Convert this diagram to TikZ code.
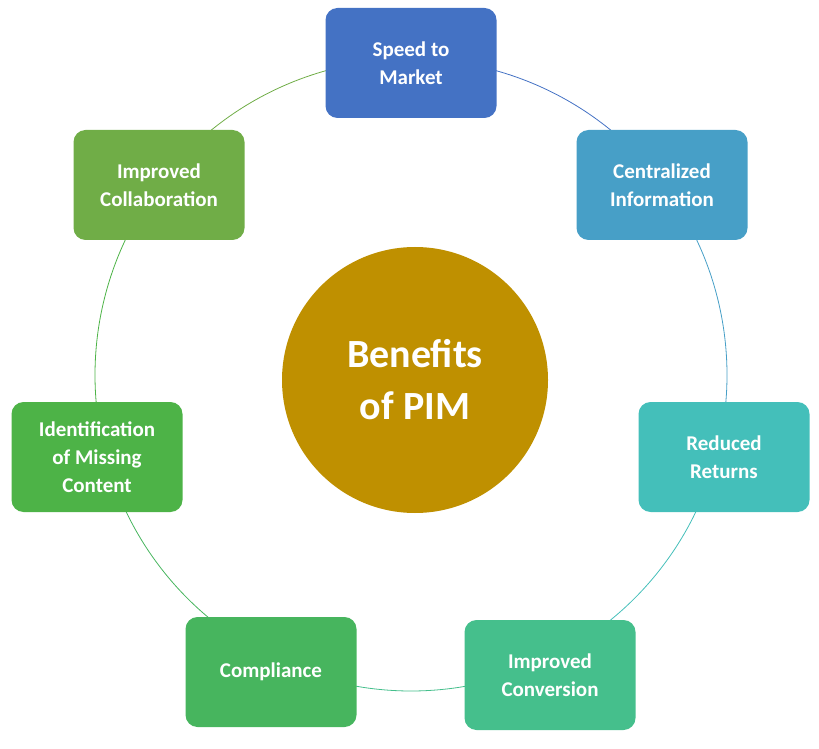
\documentclass[tikz,border=0pt]{standalone}
\usepackage{fontspec}
\setmainfont{Carlito}
\begin{document}
\begin{tikzpicture}[x=1pt,y=1pt,
  box/.style={rounded corners=12pt,minimum width=171pt,minimum height=110pt,text=white,align=center,font=\fontsize{21}{28}\selectfont\bfseries,inner sep=2pt},
  ringarc/.style={line width=0.8pt}]
\useasboundingbox (0,0) rectangle (819,748);
\definecolor{cA}{HTML}{4472C4}
\definecolor{cB}{HTML}{479FC7}
\definecolor{cC}{HTML}{44BFBA}
\definecolor{cD}{HTML}{45BF8C}
\definecolor{cE}{HTML}{47B55E}
\definecolor{cF}{HTML}{4DB347}
\definecolor{cG}{HTML}{70AD47}
\definecolor{cM}{HTML}{BF9000}
\coordinate (o) at (411,373);
\draw[ringarc,cA] (o) ++(90:316) arc (90:37:316);
\draw[ringarc,cB] (o) ++(37:316) arc (37:-15:316);
\draw[ringarc,cC] (o) ++(-15:316) arc (-15:-65:316);
\draw[ringarc,cD] (o) ++(-65:316) arc (-65:-115:316);
\draw[ringarc,cE] (o) ++(-115:316) arc (-115:-165:316);
\draw[ringarc,cF] (o) ++(195:316) arc (195:143:316);
\draw[ringarc,cG] (o) ++(143:316) arc (143:90:316);
\node[circle,fill=cM,minimum size=266pt,text=white,align=center,font=\fontsize{40}{52}\selectfont\bfseries] (m) at (415,368) {Benefits\\of PIM};
\node[box,fill=cA] (a) at (411,685) {Speed to\\Market};
\node[box,fill=cB] (b) at (662,563) {Centralized\\Information};
\node[box,fill=cC] (c) at (724,291) {Reduced\\Returns};
\node[box,fill=cD] (d) at (550,73) {Improved\\Conversion};
\node[box,fill=cE] (e) at (271,76) {Compliance};
\node[box,fill=cF] (f) at (97,291) {Identification\\of Missing\\Content};
\node[box,fill=cG] (g) at (159,563) {Improved\\Collaboration};
\end{tikzpicture}
\end{document}
